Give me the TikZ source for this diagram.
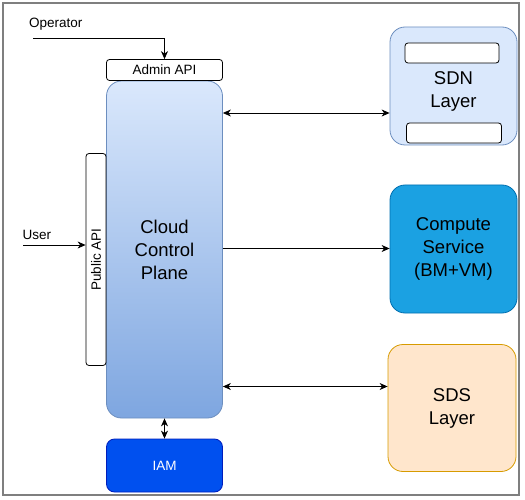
\documentclass[tikz,border=0pt]{standalone}
\usepackage{fontspec}
\setmainfont{Liberation Sans}
\usetikzlibrary{arrows.meta}
\definecolor{ccptop}{HTML}{DAE8FC}
\definecolor{ccpbot}{HTML}{7EA6E0}
\definecolor{blueline}{HTML}{6C8EBF}
\definecolor{iamfill}{HTML}{0050EF}
\definecolor{iamline}{HTML}{001DBC}
\definecolor{compfill}{HTML}{1BA1E2}
\definecolor{compline}{HTML}{006EAF}
\definecolor{sdsfill}{HTML}{FFE6CC}
\definecolor{sdsline}{HTML}{D79B00}
\definecolor{framecol}{HTML}{7F7F7F}
\tikzset{
  box/.style={draw, line width=0.8pt, align=center, inner sep=0pt},
  apibox/.style={box, draw=black, fill=white, rounded corners=3pt, font=\fontsize{13.5}{16}\selectfont},
  bigfont/.style={font=\fontsize{18.5}{23}\selectfont},
  arr/.style={line width=0.8pt, -{Stealth[length=8pt,width=7pt,inset=2.5pt]}},
  darr/.style={line width=0.8pt, {Stealth[length=8pt,width=7pt,inset=2.5pt]}-{Stealth[length=8pt,width=7pt,inset=2.5pt]}},
  lbl/.style={inner sep=0pt, font=\fontsize{13.5}{16}\selectfont}
}
\begin{document}
\begin{tikzpicture}[x=1pt,y=-1pt]
\useasboundingbox (0,0) rectangle (525,500);
\draw[framecol, line width=2pt] (3,3) rectangle (519,495);

% nodes
\node[box, draw=blueline, top color=ccptop, bottom color=ccpbot, rounded corners=15pt,
      minimum width=116pt, minimum height=337pt, bigfont] (ccp) at (164.5,249.5) {Cloud\\Control\\Plane};
\node[apibox, minimum width=116pt, minimum height=21pt] (admin) at (164.5,70) {Admin API};
\node[apibox, minimum width=20pt, minimum height=212pt] (pub) at (96,259.5) {};
\node[rotate=90, lbl] (pubtxt) at (pub.center) {Public API};
\node[box, draw=iamline, fill=iamfill, text=white, rounded corners=8pt,
      minimum width=116pt, minimum height=53pt, font=\fontsize{13.5}{16}\selectfont] (iam) at (164.5,465.5) {IAM};

\node[box, draw=blueline, fill=ccptop, rounded corners=15pt,
      minimum width=127pt, minimum height=118pt] (sdn) at (453.5,86) {};
\node[bigfont, align=center, inner sep=0pt] (sdntxt) at (453.5,91) {SDN\\Layer};
\node[apibox, minimum width=94pt, minimum height=20pt] (sdnin1) at (452,53) {};
\node[apibox, minimum width=95pt, minimum height=20pt] (sdnin2) at (454,133) {};

\node[box, draw=compline, fill=compfill, rounded corners=15pt,
      minimum width=127pt, minimum height=128pt, bigfont] (comp) at (453.5,249) {Compute\\Service\\(BM+VM)};
\node[box, draw=sdsline, fill=sdsfill, rounded corners=15pt,
      minimum width=128pt, minimum height=127pt, bigfont] (sds) at (452,408) {SDS\\Layer};

% labels
\node[lbl, anchor=base west] (optxt) at (29,27.5) {Operator};
\node[lbl, anchor=base west] (usertxt) at (22.5,239) {User};

% connectors
\coordinate (opstart) at (33,38);
\coordinate (userstart) at (23,245);
\coordinate (ysdn) at (0,113);
\coordinate (ycomp) at (0,248.5);
\coordinate (ysds) at (0,386.5);
\draw[arr] (opstart) -| (admin.north);
\draw[arr] (userstart) -- (pub.west |- userstart);
\draw[darr] (ccp.east |- ysdn) -- (sdn.west |- ysdn);
\draw[arr] (ccp.east |- ycomp) -- (comp.west |- ycomp);
\draw[darr] (ccp.east |- ysds) -- (sds.west |- ysds);
\draw[darr] (ccp.south) -- (iam.north);
\end{tikzpicture}
\end{document}
